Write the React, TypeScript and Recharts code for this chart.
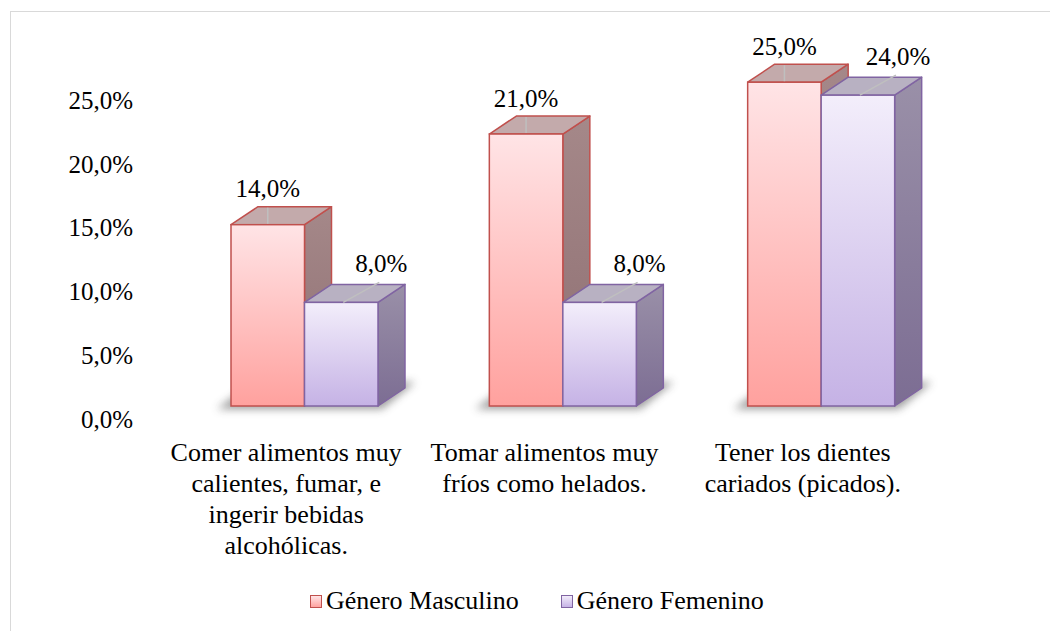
import React from "react";
import { BarChart, Bar, XAxis, YAxis, LabelList } from "recharts";

const categories = [
  "Comer alimentos muy\ncalientes, fumar, e\ningerir bebidas\nalcohólicas.",
  "Tomar alimentos muy\nfríos como helados.",
  "Tener los dientes\ncariados (picados).",
];
const masculino = [14, 21, 25];
const femenino = [8, 8, 24];
const yTicks = [0, 5, 10, 15, 20, 25];
const seriesNames = ["Género Masculino", "Género Femenino"];

const data = categories.map((name, i) => ({
  name,
  masculino: masculino[i],
  femenino: femenino[i],
}));

// 3D look: depth offset and the small shift of the bar floor above the axis zero
const DX = 27;
const DY = 18;
const LIFT = 13;
const STRETCH = 1.015;
const FONT = "'Times New Roman', Tinos, 'Liberation Serif', 'Noto Serif', 'DejaVu Serif', Times, serif";

const palette = {
  m: { stroke: "#C0504D", front: "url(#mFront)", side: "url(#mSide)", top: "#C3AAAB" },
  f: { stroke: "#8064A2", front: "url(#fFront)", side: "url(#fSide)", top: "#B8B1C2" },
};

function geom(p: any) {
  const bottom = p.y + p.height - LIFT;
  const h = p.height * STRETCH;
  return { left: p.x, right: p.x + p.width, top: bottom - h, bottom, w: p.width };
}

function Box3D(props: any) {
  const { kind } = props;
  const c = palette[kind as "m" | "f"];
  const { left, right, top, bottom, w } = geom(props);
  return (
    <g>
      {kind === "m" && (
        <polygon
          points={`${left - 14},${bottom + 3} ${left + 2 * w + 4},${bottom + 3} ${left + 2 * w + DX + 10},${bottom - DY - 6} ${left + DX - 4},${bottom - DY - 6}`}
          fill="#4a4a4a"
          opacity={0.55}
          filter="url(#soft)"
        />
      )}
      <polygon
        points={`${right},${top} ${right + DX},${top - DY} ${right + DX},${bottom - DY} ${right},${bottom}`}
        fill={c.side}
        stroke={c.stroke}
        strokeWidth={1.5}
        strokeLinejoin="round"
      />
      <polygon
        points={`${left},${top} ${left + DX},${top - DY} ${right + DX},${top - DY} ${right},${top}`}
        fill={c.top}
        stroke={c.stroke}
        strokeWidth={1.5}
        strokeLinejoin="round"
      />
      <rect x={left} y={top} width={w} height={bottom - top} fill={c.front} stroke={c.stroke} strokeWidth={1.5} />
    </g>
  );
}

function MaleLabel(props: any) {
  const { left, top, w } = geom(props);
  const cx = left + w / 2;
  const back = top - DY;
  return (
    <g>
      <line x1={cx} y1={back + 1} x2={cx} y2={top - 1} stroke="#BFBFBF" strokeWidth={1.5} />
      <text x={cx} y={back - 18} textAnchor="middle" dominantBaseline="central" style={{ fontFamily: FONT }} fontSize={25} fill="#000">
        {props.value.toFixed(1).replace(".", ",")}%
      </text>
    </g>
  );
}

function FemaleLabel(props: any) {
  const { left, top, w } = geom(props);
  const cx = left + w / 2;
  const back = top - DY;
  return (
    <g>
      <line x1={cx + 38} y1={back - 2} x2={cx + 2} y2={top} stroke="#BFBFBF" strokeWidth={1.5} />
      <text x={cx + 40} y={back - 21} textAnchor="middle" dominantBaseline="central" style={{ fontFamily: FONT }} fontSize={25} fill="#000">
        {props.value.toFixed(1).replace(".", ",")}%
      </text>
    </g>
  );
}

function CategoryTick({ x, y, payload }: any) {
  const lines = String(payload.value).split("\n");
  return (
    <g>
      {lines.map((l, i) => (
        <text key={i} x={x - 18} y={y + 42 + i * 31} textAnchor="middle" style={{ fontFamily: FONT }} fontSize={26} fill="#000">
          {l}
        </text>
      ))}
    </g>
  );
}

function LegendItem({ label, kind }: { label: string; kind: "m" | "f" }) {
  const bg =
    kind === "m"
      ? "linear-gradient(#FFE4E6, #FFA3A0)"
      : "linear-gradient(#F2ECFA, #C6B3E6)";
  return (
    <div style={{ display: "flex", alignItems: "center" }}>
      <span
        style={{
          width: 10,
          height: 11,
          background: bg,
          border: `1.5px solid ${palette[kind].stroke}`,
          marginRight: 4,
          display: "inline-block",
        }}
      />
      <span>{label}</span>
    </div>
  );
}

export default function App() {
  return (
    <div style={{ position: "absolute", left: 0, top: 0, width: 1050, height: 631, overflow: "hidden", background: "#fff", fontFamily: FONT }}>
      <div style={{ position: "absolute", left: 10, top: 11, width: 1100, height: 700, border: "1.5px solid #D9D9D9" }} />
      <div style={{ position: "absolute", left: 0, top: 0 }}>
        <BarChart
          width={1050}
          height={631}
          data={data}
          margin={{ top: 100, right: 100, bottom: 62, left: 55 }}
          barGap={0}
          barSize={73.5}
          style={{ fontFamily: FONT }}
        >
          <defs>
            <linearGradient id="mFront" x1="0" y1="0" x2="0" y2="1">
              <stop offset="0%" stopColor="#FFE4E6" />
              <stop offset="100%" stopColor="#FFA19E" />
            </linearGradient>
            <linearGradient id="fFront" x1="0" y1="0" x2="0" y2="1">
              <stop offset="0%" stopColor="#F3EEFB" />
              <stop offset="100%" stopColor="#C5B2E5" />
            </linearGradient>
            <linearGradient id="mSide" x1="0" y1="0" x2="0" y2="1">
              <stop offset="0%" stopColor="#A58889" />
              <stop offset="100%" stopColor="#8E6F72" />
            </linearGradient>
            <linearGradient id="fSide" x1="0" y1="0" x2="0" y2="1">
              <stop offset="0%" stopColor="#9A90A8" />
              <stop offset="100%" stopColor="#7C6D93" />
            </linearGradient>
            <filter id="soft" x="-20%" y="-50%" width="140%" height="200%">
              <feGaussianBlur stdDeviation="4" />
            </filter>
          </defs>
          <XAxis
            dataKey="name"
            axisLine={false}
            tickLine={false}
            tickSize={0}
            tickMargin={0}
            height={150}
            interval={0}
            tick={<CategoryTick />}
          />
          <YAxis
            domain={[0, 25]}
            ticks={yTicks}
            axisLine={false}
            tickLine={false}
            tickSize={0}
            tickMargin={42}
            width={120}
            tickFormatter={(v: number) => v.toFixed(1).replace(".", ",") + "%"}
            tick={{ fill: "#000", fontSize: 25, style: { fontFamily: FONT } }}
          />
          <Bar dataKey="masculino" name={seriesNames[0]} isAnimationActive={false} shape={(p: any) => <Box3D {...p} kind="m" />}>
            <LabelList dataKey="masculino" content={(p: any) => <MaleLabel {...p} />} />
          </Bar>
          <Bar dataKey="femenino" name={seriesNames[1]} isAnimationActive={false} shape={(p: any) => <Box3D {...p} kind="f" />}>
            <LabelList dataKey="femenino" content={(p: any) => <FemaleLabel {...p} />} />
          </Bar>
        </BarChart>
      </div>
      <div
        style={{
          position: "absolute",
          left: 310,
          top: 586,
          display: "flex",
          gap: 42,
          fontSize: 26,
          color: "#000",
        }}
      >
        <LegendItem label={seriesNames[0]} kind="m" />
        <LegendItem label={seriesNames[1]} kind="f" />
      </div>
    </div>
  );
}
